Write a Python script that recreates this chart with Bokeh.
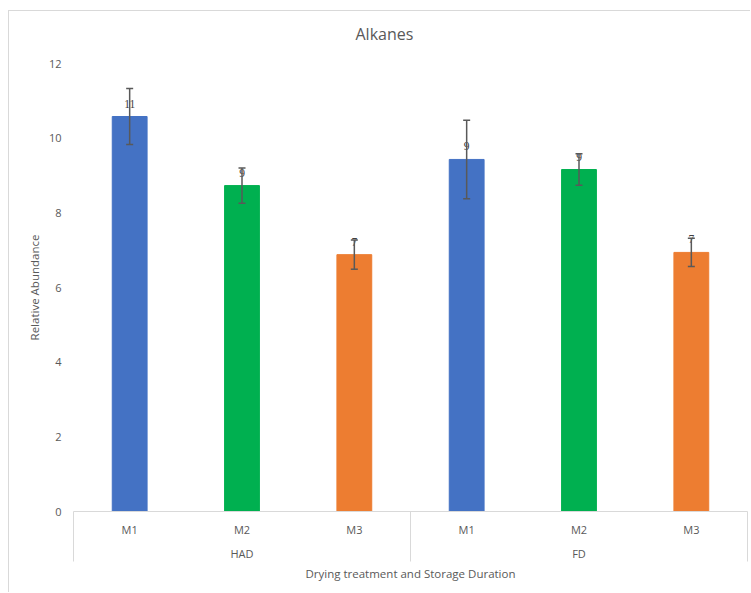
from bokeh.plotting import figure
from bokeh.models import (ColumnDataSource, Range1d, FixedTicker,
                          Whisker, TeeHead, LabelSet, LinearAxis)
from bokeh.embed import file_html
from bokeh.resources import INLINE

# ---- data ----
groups = ["HAD", "HAD", "HAD", "FD", "FD", "FD"]
months = ["M1", "M2", "M3", "M1", "M2", "M3"]
values = [10.58, 8.73, 6.88, 9.43, 9.16, 6.94]
errors = [0.75, 0.47, 0.39, 1.05, 0.42, 0.38]
colors = ["#4472C4", "#00B050", "#ED7D31", "#4472C4", "#00B050", "#ED7D31"]
y_ticks = [0, 2, 4, 6, 8, 10, 12]
title_text = "Alkanes"
x_title = "Drying treatment and Storage Duration"
y_title = "Relative Abundance"

n = len(months)
centers = [i + 0.5 for i in range(n)]          # one slot per category
bounds = [0] + [i + 1 for i in range(n - 1) if groups[i] != groups[i + 1]] + [n]
group_names = list(dict.fromkeys(groups))
group_centers = [sum(c for c, g in zip(centers, groups) if g == name) / groups.count(name)
                 for name in group_names]

source = ColumnDataSource(dict(
    x=centers,
    top=values,
    upper=[v + e for v, e in zip(values, errors)],
    lower=[v - e for v, e in zip(values, errors)],
    color=colors,
    label=[str(int(round(v))) for v in values],
))

FONT = "Open Sans"
GREY = "#595959"
LINE = "#d9d9d9"

p = figure(width=750, height=592, output_backend="svg", toolbar_location=None,
           x_range=Range1d(0, n), y_range=Range1d(y_ticks[0], y_ticks[-1]),
           x_axis_location=None,
           min_border_left=73, min_border_right=3, min_border_top=63, min_border_bottom=81)
# light chart-area border (left and top edges), painted behind a transparent canvas border
p.border_fill_color = None
p.styles = {"background": "linear-gradient(#d9d9d9, #d9d9d9) 8px 10px / 1px 100% no-repeat, "
                          "linear-gradient(#d9d9d9, #d9d9d9) 8px 10px / 100% 1px no-repeat"}

p.vbar(x="x", top="top", width=0.31, color="color", source=source)

p.add_layout(Whisker(base="x", upper="upper", lower="lower", source=source,
                     line_color=GREY, line_width=1.5, level="overlay",
                     upper_head=TeeHead(size=7, line_color=GREY, line_width=1.5),
                     lower_head=TeeHead(size=7, line_color=GREY, line_width=1.5)))

p.add_layout(LabelSet(x="x", y="top", text="label", source=source,
                      y_offset=13, text_align="center", text_baseline="middle",
                      text_font=FONT, text_font_size="11.5px", text_color="#404040"))

# title
p.title.text = title_text
p.title.text_font = FONT
p.title.text_font_size = "16px"
p.title.text_font_style = "normal"
p.title.text_color = GREY
p.title.align = "left"
p.title.offset = 282
p.title.standoff = 38

# y axis
p.yaxis.ticker = FixedTicker(ticks=y_ticks)
p.yaxis.axis_line_color = None
p.yaxis.major_tick_line_color = None
p.yaxis.minor_tick_line_color = None
p.yaxis.major_tick_out = 0
p.yaxis.major_label_standoff = 12
p.yaxis.major_label_text_font = FONT
p.yaxis.major_label_text_font_size = "11px"
p.yaxis.major_label_text_color = GREY
p.yaxis.axis_label = y_title
p.yaxis.axis_label_text_font = FONT
p.yaxis.axis_label_text_font_size = "11.5px"
p.yaxis.axis_label_text_font_style = "normal"
p.yaxis.axis_label_text_color = GREY
p.yaxis.axis_label_standoff = 4

# x axis, level 1: months, with group separators drawn as (inverted) minor ticks
ax1 = LinearAxis(ticker=FixedTicker(ticks=centers, minor_ticks=bounds),
                 major_label_overrides={c: m for c, m in zip(centers, months)},
                 axis_line_color=LINE,
                 major_tick_line_color=None, major_tick_out=0, major_tick_in=0,
                 minor_tick_line_color=LINE, minor_tick_out=0, minor_tick_in=-50,
                 minor_tick_line_width=1,
                 major_label_standoff=10,
                 major_label_text_font=FONT, major_label_text_font_size="11px",
                 major_label_text_color=GREY)
p.add_layout(ax1, "below")

# x axis, level 2: groups + axis title
ax2 = LinearAxis(ticker=FixedTicker(ticks=group_centers, minor_ticks=[]),
                 major_label_overrides={c: g for c, g in zip(group_centers, group_names)},
                 axis_line_color=None,
                 major_tick_line_color=None, major_tick_out=0, major_tick_in=0,
                 minor_tick_line_color=None,
                 major_label_standoff=6,
                 major_label_text_font=FONT, major_label_text_font_size="11px",
                 major_label_text_color=GREY,
                 axis_label=x_title, axis_label_standoff=2,
                 axis_label_text_font=FONT, axis_label_text_font_size="11.5px",
                 axis_label_text_font_style="normal", axis_label_text_color=GREY)
p.add_layout(ax2, "below")

p.xgrid.grid_line_color = None
p.ygrid.grid_line_color = None
p.outline_line_color = None

open("out.html", "w").write(file_html(p, INLINE))
